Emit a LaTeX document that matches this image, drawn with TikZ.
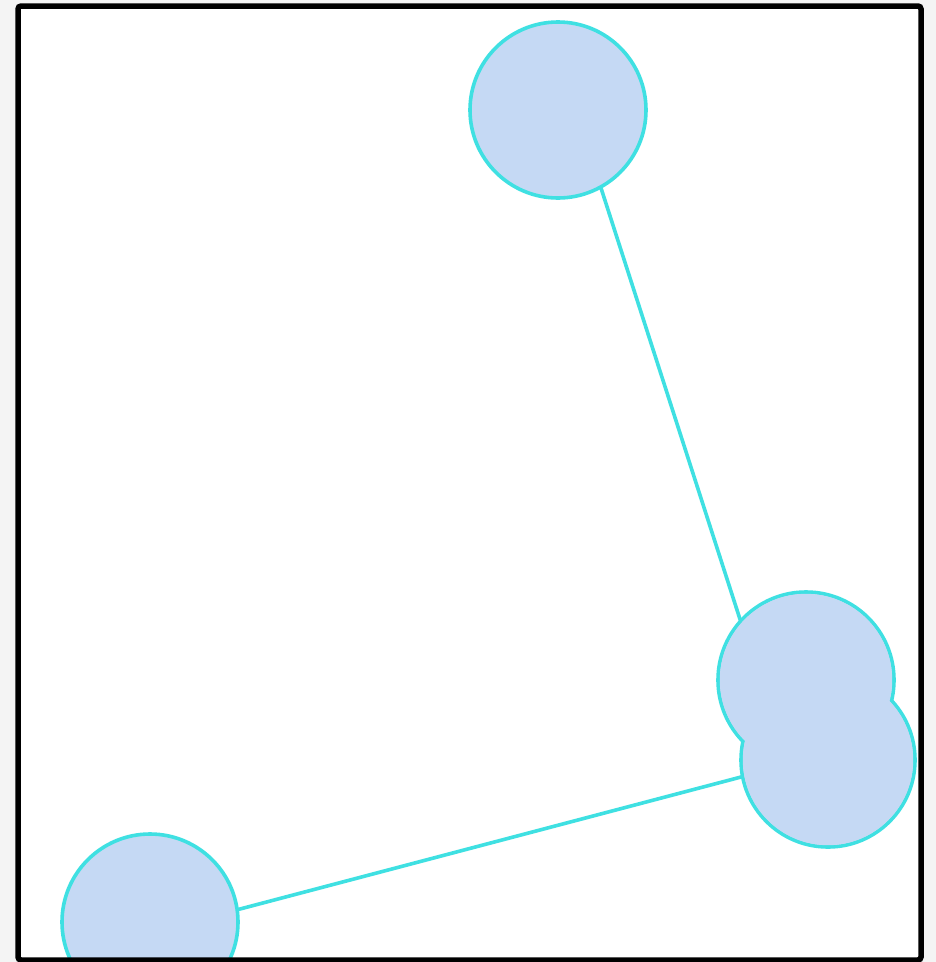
\documentclass[tikz,border=0pt]{standalone}
\usepackage{tikz}
\definecolor{nodefill}{HTML}{C5D9F4}
\definecolor{nodeline}{HTML}{3FE0E2}
\definecolor{bggray}{HTML}{F4F4F4}
\begin{document}
\begin{tikzpicture}[x=1pt,y=-1pt,
  vertex/.style={circle, draw=nodeline, fill=nodefill, line width=3.6pt, inner sep=0pt, outer sep=0pt},
  edge/.style={draw=nodeline, line width=3.6pt}]
\useasboundingbox (0,0) rectangle (936,962);
\fill[bggray] (0,0) rectangle (936,962);
\fill[white] (18,6) rectangle (921,960);
\begin{scope}
\clip (18,6) rectangle (921,960);
\node[vertex, minimum size=176pt] (t) at (558,110) {};
\node[vertex, minimum size=176pt] (a) at (806,680) {};
\node[vertex, minimum size=174pt] (b) at (828,760) {};
\node[vertex, minimum size=176pt] (l) at (150,922) {};
\draw[edge] (t.-61) -- (a.138);
\draw[edge] (l.8) -- (b.191);
\fill[nodefill] (a.center) circle (86.2pt);
\fill[nodefill] (b.center) circle (85.2pt);
\end{scope}
\draw[black, line width=5.5pt, rounded corners=3pt] (18,6) rectangle (921,960);
\end{tikzpicture}
\end{document}
